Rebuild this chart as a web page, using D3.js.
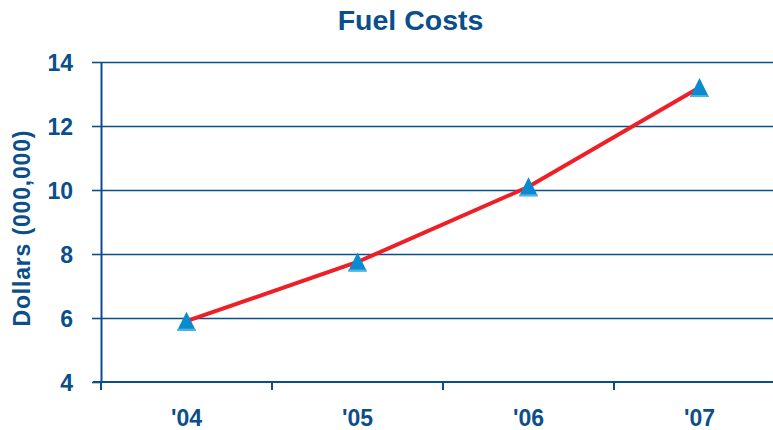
<!DOCTYPE html>
<html>
<head>
<meta charset="utf-8">
<script src="https://cdn.jsdelivr.net/npm/d3@7"></script>
<style>
  body { margin: 0; background: #fff; }
  svg { display: block; font-family: "Liberation Sans", Arial, sans-serif; }
</style>
</head>
<body>
<div id="chart"></div>
<script>
const years = ["'04", "'05", "'06", "'07"];
const fuelCosts = [5.9, 7.75, 10.1, 13.2];
const yTicks = [4, 6, 8, 10, 12, 14];

const width = 773, height = 430;
const blue = '#0b4f8a';

const svg = d3.select('#chart')
    .append('svg')
    .attr('width', width)
    .attr('height', height);

const x = d3.scaleBand()
    .domain(years)
    .range([101, 785]);

const y = d3.scaleLinear()
    .domain([4, 14])
    .range([382, 62]);

// gridlines
svg.append('g')
    .selectAll('line')
    .data(yTicks.slice(1))
    .join('line')
    .attr('x1', 101)
    .attr('x2', width)
    .attr('y1', d => y(d) + 0.5)
    .attr('y2', d => y(d) + 0.5)
    .attr('stroke', blue)
    .attr('stroke-width', 1.6);

// y axis
const yAxis = svg.append('g')
    .attr('transform', 'translate(101,0)')
    .call(d3.axisLeft(y).tickValues(yTicks).tickSize(9).tickPadding(19).tickSizeOuter(0));
yAxis.select('.domain').attr('stroke', blue).attr('stroke-width', 2);
yAxis.selectAll('.tick line').attr('stroke', blue).attr('stroke-width', 1.6);
yAxis.selectAll('text')
    .attr('fill', blue)
    .attr('font-size', 23)
    .attr('font-weight', 'bold')
    .attr('font-family', '"Liberation Sans", Arial, sans-serif')
    .attr('dy', '0.36em');

// x axis
const xAxis = svg.append('g')
    .attr('transform', 'translate(0,382)')
    .call(d3.axisBottom(x).tickSize(0).tickPadding(0).tickSizeOuter(0));
xAxis.select('.domain').remove();
xAxis.append('line')
    .attr('x1', 93).attr('x2', width)
    .attr('stroke', blue).attr('stroke-width', 2);
xAxis.append('g')
    .selectAll('line')
    .data(years)
    .join('line')
    .attr('x1', d => x(d)).attr('x2', d => x(d))
    .attr('y1', 0).attr('y2', 8)
    .attr('stroke', blue).attr('stroke-width', 2);
xAxis.selectAll('.tick text')
    .attr('y', 44)
    .attr('dy', 0)
    .attr('fill', blue)
    .attr('font-size', 23)
    .attr('font-weight', 'bold')
    .attr('font-family', '"Liberation Sans", Arial, sans-serif');

// line
const line = d3.line()
    .x((d, i) => x(years[i]) + x.bandwidth() / 2)
    .y(d => y(d));

svg.append('path')
    .datum(fuelCosts)
    .attr('d', line)
    .attr('fill', 'none')
    .attr('stroke', '#ee1f26')
    .attr('stroke-width', 4);

// triangle markers (bbox centered on point)
const tri = 'M0,-9.5 L9.5,9.5 L-9.5,9.5 Z';
const markers = svg.append('g')
    .selectAll('g')
    .data(fuelCosts)
    .join('g')
    .attr('transform', (d, i) => `translate(${x(years[i]) + x.bandwidth() / 2},${y(d)})`);
markers.append('path')
    .attr('d', tri)
    .attr('fill', '#0a8bd0');
markers.append('line')
    .attr('x1', -9).attr('x2', 9)
    .attr('y1', 8.5).attr('y2', 8.5)
    .attr('stroke', '#4fb3e6')
    .attr('stroke-width', 2);

// title
svg.append('text')
    .attr('x', 410.5)
    .attr('y', 30)
    .attr('text-anchor', 'middle')
    .attr('fill', blue)
    .attr('font-size', 28.5)
    .attr('font-weight', 'bold')
    .text('Fuel Costs');

// y title
svg.append('text')
    .attr('transform', 'translate(30,228.5) rotate(-90)')
    .attr('text-anchor', 'middle')
    .attr('fill', blue)
    .attr('font-size', 23)
    .attr('font-weight', 'bold')
    .attr('textLength', 196)
    .attr('lengthAdjust', 'spacing')
    .text('Dollars (000,000)');
</script>
</body>
</html>
